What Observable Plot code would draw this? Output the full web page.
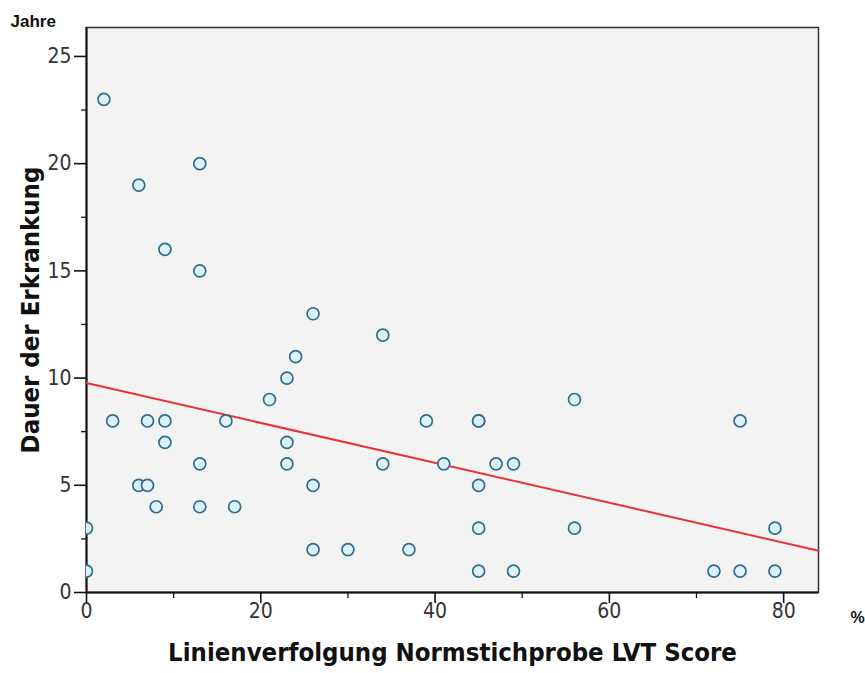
<!DOCTYPE html>
<html>
<head>
<meta charset="utf-8">
<script src="https://cdn.jsdelivr.net/npm/d3@7"></script>
<script src="https://cdn.jsdelivr.net/npm/@observablehq/plot@0.6"></script>
<style>
  html, body { margin: 0; padding: 0; background: #ffffff; }
  #chart { width: 865px; height: 673px; }
</style>
</head>
<body>
<div id="chart"></div>
<script>
// LVT score (%) per patient
const lvtScore = [2, 6, 13, 9, 13, 26, 34, 24, 23, 21, 56, 3, 7, 9, 16, 39, 45, 45, 75, 9, 23,
  13, 23, 34, 41, 47, 49, 6, 7, 26, 45, 8, 13, 17, 0, 45, 56, 79, 26, 30, 37, 0, 45, 49, 72, 75, 79];
// Illness duration (years) per patient
const duration = [23, 19, 20, 16, 15, 13, 12, 11, 10, 9, 9, 8, 8, 8, 8, 8, 8, 8, 8, 7, 7,
  6, 6, 6, 6, 6, 6, 5, 5, 5, 5, 4, 4, 4, 3, 3, 3, 3, 2, 2, 2, 1, 1, 1, 1, 1, 1];
const xTicks = [0, 20, 40, 60, 80];
const xMinorTicks = [10, 30, 50, 70];
const yTicks = [0, 5, 10, 15, 20, 25];
const yMinorTicks = [2.5, 7.5, 12.5, 17.5, 22.5];
const xDomain = [0, 84];
const yDomain = [0, 26.35];

const points = lvtScore.map((x, i) => ({x, y: duration[i]}));

// least squares fit line across the x domain
const mx = d3.mean(lvtScore), my = d3.mean(duration);
const sxy = d3.sum(points, d => (d.x - mx) * (d.y - my));
const sxx = d3.sum(points, d => (d.x - mx) ** 2);
const slope = sxy / sxx, intercept = my - slope * mx;
const fit = xDomain.map(x => ({x, y: intercept + slope * x}));

const narrow = "'Liberation Sans Narrow', 'Arial Narrow', 'DejaVu Sans Condensed', sans-serif";
const arial = "'Liberation Sans', Arial, sans-serif";

const chart = Plot.plot({
  width: 865,
  height: 673,
  marginLeft: 86,
  marginRight: 47,
  marginTop: 27,
  marginBottom: 81,
  style: {background: "#ffffff", fontFamily: narrow, fontSize: "21px", color: "#333"},
  x: {domain: xDomain, label: null},
  y: {domain: yDomain, label: null},
  marks: [
    Plot.frame({fill: "#f3f3f3", stroke: "#333", strokeWidth: 1.5}),
    Plot.axisX({ticks: xTicks, tickSize: 11, tickPadding: 0, tickFormat: d => d, stroke: "#111", strokeWidth: 1.6, fontSize: 21, label: null}),
    Plot.axisX({ticks: xMinorTicks, tickSize: 6, text: null, stroke: "#111", strokeWidth: 1.3, label: null}),
    Plot.axisY({ticks: yTicks, tickSize: 12, tickPadding: 3, tickFormat: d => d, stroke: "#111", strokeWidth: 1.6, fontSize: 21, label: null}),
    Plot.axisY({ticks: yMinorTicks, tickSize: 5, text: null, stroke: "#111", strokeWidth: 1.3, label: null}),
    Plot.ruleX([0], {stroke: "#111", strokeWidth: 2}),
    Plot.ruleY([0], {stroke: "#111", strokeWidth: 2}),
    Plot.line(fit, {x: "x", y: "y", stroke: "#e8323a", strokeWidth: 2}),
    Plot.dot(points, {x: "x", y: "y", r: 6, fill: "#dcf1fa", stroke: "#2d6e8c", strokeWidth: 1.7, clip: true}),
    Plot.text(["Dauer der Erkrankung"], {frameAnchor: "left", dx: -56, rotate: -90, textAnchor: "middle", fontSize: 25.5, fontWeight: "bold", fill: "#111", fontFamily: narrow}),
    Plot.text(["Linienverfolgung Normstichprobe LVT Score"], {frameAnchor: "bottom", dy: 68, fontSize: 25.5, fontWeight: "bold", fill: "#111", fontFamily: narrow}),
    Plot.text(["Jahre"], {frameAnchor: "top-left", dx: -76, dy: -1, textAnchor: "start", lineAnchor: "bottom", fontSize: 17, fontWeight: "bold", fill: "#111", fontFamily: arial}),
    Plot.text(["%"], {frameAnchor: "bottom-right", dx: 39, dy: 19, textAnchor: "middle", lineAnchor: "top", fontSize: 16, fontWeight: "bold", fill: "#111", fontFamily: arial})
  ]
});
document.getElementById("chart").appendChild(chart);
</script>
</body>
</html>
